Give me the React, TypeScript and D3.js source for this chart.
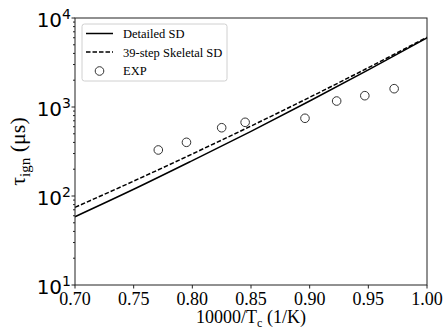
import React from 'react';
import * as d3 from 'd3';

// inverse temperature, 10000/Tc (1/K)
const curveX = [0.7, 0.75, 0.8, 0.85, 0.9, 0.95, 1.0];
// ignition delay (us)
const detailedSD = [58.5, 119, 250, 533, 1167, 2612, 5980];
const skeletalSD = [74.6, 147, 297, 611, 1285, 2767, 6080];

const expX = [0.771, 0.795, 0.825, 0.845, 0.896, 0.923, 0.947, 0.972];
const expTau = [329, 401, 585, 673, 747, 1167, 1340, 1606];

const xTicks = [0.7, 0.75, 0.8, 0.85, 0.9, 0.95, 1.0];
const yExponents = [1, 2, 3, 4];

const W = 445;
const H = 331;
const margin = { top: 18, right: 18, bottom: 46, left: 75 };

const App: React.FC = () => {
  const innerW = W - margin.left - margin.right;
  const innerH = H - margin.top - margin.bottom;

  const x = d3.scaleLinear().domain([0.7, 1.0]).range([0, innerW]);
  const y = d3.scaleLog().domain([10, 10000]).range([innerH, 0]);

  const line = d3
    .line<number>()
    .x((_, i) => x(curveX[i]))
    .y(d => y(d))
    .curve(d3.curveMonotoneX);

  // minor ticks 2..9 in each decade
  const minorTicks: number[] = [];
  for (let e = 1; e < 4; e++) {
    for (let m = 2; m < 10; m++) minorTicks.push(m * Math.pow(10, e));
  }

  const serif = '"Liberation Serif", "Times New Roman", serif';
  const sans = '"DejaVu Sans", sans-serif';
  const axisColor = '#222';

  return (
    <svg
      width={W}
      height={H}
      style={{ position: 'absolute', left: 0, top: 0, background: '#fff' }}
    >
      <g transform={`translate(${margin.left},${margin.top})`}>
        {/* curves */}
        <path d={line(detailedSD) || ''} fill="none" stroke="#000" strokeWidth={1.5} />
        <path
          d={line(skeletalSD) || ''}
          fill="none"
          stroke="#000"
          strokeWidth={1.5}
          strokeDasharray="4.5,2"
        />

        {/* experiments */}
        {expX.map((v, i) => (
          <circle
            key={`exp-${i}`}
            cx={x(v)}
            cy={y(expTau[i])}
            r={4.3}
            fill="none"
            stroke="#333"
            strokeWidth={1}
          />
        ))}

        {/* frame */}
        <rect x={0} y={0} width={innerW} height={innerH} fill="none" stroke={axisColor} strokeWidth={1} />

        {/* x axis */}
        {xTicks.map(t => (
          <g key={`xt-${t}`} transform={`translate(${x(t)},${innerH})`}>
            <line y2={3.5} stroke={axisColor} />
            <text
              y={19.5}
              textAnchor="middle"
              fontFamily={serif}
              fontSize={18}
              fill="#000"
            >
              {t.toFixed(2)}
            </text>
          </g>
        ))}
        <text
          x={innerW / 2}
          y={H - margin.top - 8}
          textAnchor="middle"
          fontFamily={serif}
          fontSize={18}
          fill="#000"
        >
          10000/T
          <tspan fontSize={12} dy={4}>c</tspan>
          <tspan dy={-4}> (1/K)</tspan>
        </text>

        {/* y axis */}
        {minorTicks.map(t => (
          <line key={`ym-${t}`} x1={0} x2={-2} y1={y(t)} y2={y(t)} stroke={axisColor} />
        ))}
        {yExponents.map(e => (
          <g key={`yt-${e}`} transform={`translate(0,${y(Math.pow(10, e))})`}>
            <line x2={-3.5} stroke={axisColor} />
            <text x={-4} y={8.5} textAnchor="end" fontFamily={sans} fontSize={20} fill="#000">
              10
              <tspan fontSize={14} dy={-8}>{e}</tspan>
            </text>
          </g>
        ))}
        <text
          transform={`translate(${-50},${innerH / 2}) rotate(-90)`}
          textAnchor="middle"
          fontFamily={serif}
          fontSize={22}
          fill="#000"
        >
          τ
          <tspan fontSize={15} dy={5}>ign</tspan>
          <tspan dy={-5}> (μs)</tspan>
        </text>

        {/* legend */}
        <g transform="translate(7,6)">
          <rect
            x={0}
            y={0}
            width={145}
            height={57}
            rx={2.5}
            fill="#fff"
            fillOpacity={0.8}
            stroke="#d0d0d0"
            strokeWidth={1}
          />
          <line x1={4} x2={31} y1={9.5} y2={9.5} stroke="#000" strokeWidth={1.5} />
          <text x={41} y={14} fontFamily={serif} fontSize={12.5} fill="#000">Detailed SD</text>
          <line x1={4} x2={31} y1={28} y2={28} stroke="#000" strokeWidth={1.5} strokeDasharray="4.5,2" />
          <text x={41} y={32.5} fontFamily={serif} fontSize={12.5} fill="#000">39-step Skeletal SD</text>
          <circle cx={17.5} cy={47} r={4.3} fill="none" stroke="#333" strokeWidth={1} />
          <text x={41} y={51} fontFamily={serif} fontSize={12.5} fill="#000">EXP</text>
        </g>
      </g>
    </svg>
  );
};

export default App;
